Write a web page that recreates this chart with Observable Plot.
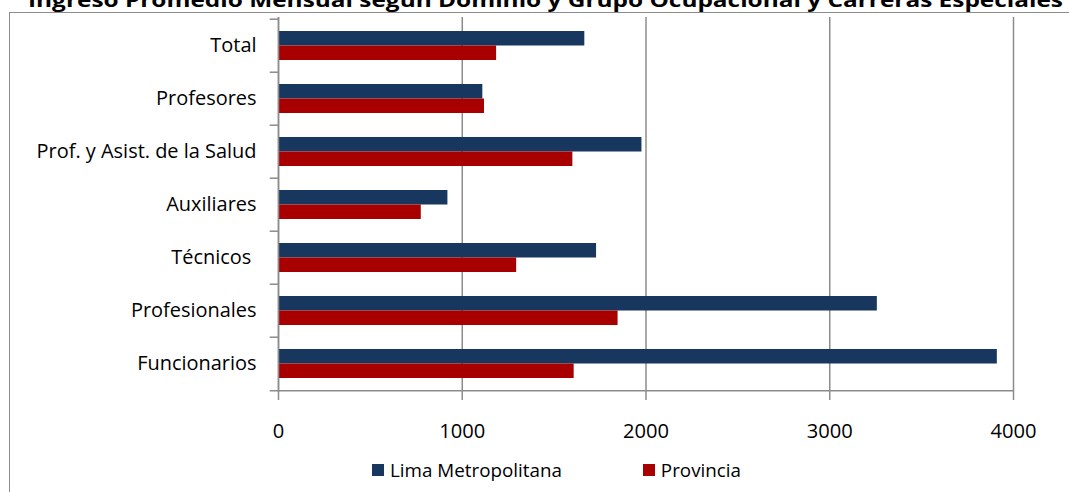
<!DOCTYPE html>
<html><head><meta charset="utf-8">
<script src="https://cdn.jsdelivr.net/npm/d3@7"></script>
<script src="https://cdn.jsdelivr.net/npm/@observablehq/plot@0.6"></script>
<style>
body{margin:0;background:#fff;}
#wrap{position:relative;width:1069px;height:492px;overflow:hidden;font-family:"Open Sans",sans-serif;background:#fff;}
#border{position:absolute;left:9px;top:12px;width:1200px;height:600px;border:1px solid #8c8c8c;box-sizing:border-box;}
#title{position:absolute;left:0;top:0;}
#chart{position:absolute;left:0;top:0;}
#legend{position:absolute;left:372px;top:460px;height:20px;display:flex;align-items:center;color:#000;white-space:nowrap;}
#legend .sw{width:12px;height:12px;display:inline-block;margin-right:6px;}
#legend .item{display:flex;align-items:center;}
</style></head><body>
<div id="wrap">
<div id="border"></div>
<svg id="title" width="1069" height="20"><text id="ttl" x="28" y="6.5" font-family="Open Sans" font-weight="bold" font-size="19" textLength="1035" lengthAdjust="spacingAndGlyphs" fill="#000"></text></svg>
<div id="chart"></div>
<div id="legend"></div>
</div>
<script>
const titleText = "Ingreso Promedio Mensual según Dominio y Grupo Ocupacional y Carreras Especiales";
const categories = ["Total","Profesores","Prof. y Asist. de la Salud","Auxiliares","Técnicos ","Profesionales","Funcionarios"];
const lima = [1667,1112,1978,922,1731,3259,3912];
const provincia = [1187,1121,1602,777,1296,1848,1609];
const seriesNames = ["Lima Metropolitana","Provincia"];
const colors = ["#17375E","#A80000"];
const xTicks = [0,1000,2000,3000,4000];

document.getElementById("ttl").textContent = titleText;

// font size that gives a text a target width
const ctx = document.createElement("canvas").getContext("2d");
function fit(text, target, weight="normal", family="Open Sans") {
  ctx.font = `${weight} 100px "${family}"`;
  return 100 * target / ctx.measureText(text).width;
}
const catSize = fit("Prof. y Asist. de la Salud", 220);
const tickSize = fit("1000", 46);
const legSize = fit("Lima Metropolitana", 172);

const data = categories.map((c,i)=>({cat:c, lima:lima[i], provincia:provincia[i]}));
const gray = "#8c8c8c";
const step = (392-17)/categories.length;

const chart = Plot.plot({
  width:1069, height:452,
  marginLeft:278, marginRight:56, marginTop:17, marginBottom:60,
  style:{background:"transparent", fontFamily:"'Open Sans', sans-serif", color:"#000"},
  x:{domain:[0,4000], label:null},
  y:{domain:categories, paddingInner:0.46, paddingOuter:0.23, label:null},
  marks:[
    Plot.gridX(xTicks,{stroke:gray, strokeOpacity:1, strokeWidth:1.5}),
    Plot.barX(data,{x:"lima", y:"cat", fill:colors[0], insetBottom:14.5}),
    Plot.barX(data,{x:"provincia", y:"cat", fill:colors[1], insetTop:14.5}),
    Plot.ruleX([0],{stroke:gray, strokeWidth:1.5}),
    Plot.ruleY(categories,{y:d=>d, x1:-45, x2:0, dy:-step/2, stroke:gray, strokeWidth:1.5}),
    Plot.ruleY([categories[categories.length-1]],{y:d=>d, x1:-45, x2:4000, dy:step/2, stroke:gray, strokeWidth:1.5}),
    Plot.axisX(xTicks,{tickSize:8, tickPadding:23, stroke:gray, fill:"#000", fontSize:tickSize, tickFormat:d3.format("d"), strokeWidth:1.5, label:null}),
    Plot.axisY({tickSize:0, tickPadding:22, fill:"#000", fontSize:catSize, tickFormat:d=>d.replace(/ $/,"\u00a0"), label:null})
  ]
});
document.getElementById("chart").appendChild(chart);

const legend = document.getElementById("legend");
legend.style.fontSize = legSize + "px";
seriesNames.forEach((n,i)=>{
  const it = document.createElement("div");
  it.className="item";
  if(i>0) it.style.marginLeft="81px";
  it.innerHTML = `<span class="sw" style="background:${colors[i]}"></span><span>${n}</span>`;
  legend.appendChild(it);
});
</script>
</body></html>
